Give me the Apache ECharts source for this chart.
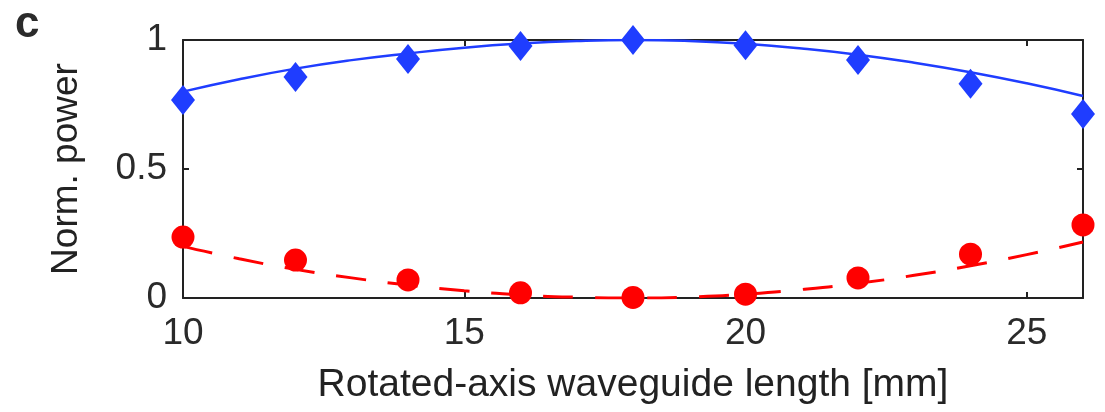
<!DOCTYPE html>
<html>
<head>
<meta charset="utf-8">
<script src="https://cdn.jsdelivr.net/npm/echarts@6/dist/echarts.min.js"></script>
<style>
  html, body { margin: 0; padding: 0; background: #fff; }
  #chart { width: 1105px; height: 412px; }
</style>
</head>
<body>
<div id="chart"></div>
<script>
// Measured waveguide lengths [mm]
const lengths = [10, 12, 14, 16, 18, 20, 22, 24, 26];
// Normalised power in the co-polarised (blue) and cross-polarised (red) outputs
const powerCo = [0.767, 0.857, 0.926, 0.977, 1.0, 0.98, 0.922, 0.83, 0.713];
const powerCross = [0.236, 0.147, 0.07, 0.02, 0.002, 0.015, 0.078, 0.17, 0.283];

// Fitted curves sampled every millimetre
const fitLengths = [10, 11, 12, 13, 14, 15, 16, 17, 18, 19, 20, 21, 22, 23, 24, 25, 26];
const fitCo = [0.80, 0.848, 0.889, 0.922, 0.948, 0.970, 0.986, 0.996, 1.0, 0.996, 0.985, 0.967, 0.943, 0.912, 0.875, 0.832, 0.783];
const fitCross = [0.200, 0.152, 0.111, 0.078, 0.050, 0.028, 0.012, 0.003, 0.0, 0.004, 0.015, 0.033, 0.057, 0.088, 0.125, 0.168, 0.217];

const xTicks = [10, 15, 20, 25];
const yTicks = [0, 0.5, 1];

const pairs = (xs, ys) => xs.map((x, i) => [x, ys[i]]);

const BLUE = '#1f3dff';
const RED = '#ff0000';
const INK = '#222222';
const FONT = '"Liberation Sans", Arial, Helvetica, sans-serif';

const frameLine = { show: true, onZero: false, lineStyle: { color: INK, width: 2 } };
const innerTick = { show: true, inside: true, length: 6, lineStyle: { color: INK, width: 2 } };

const chart = echarts.init(document.getElementById('chart'), null, { renderer: 'canvas' });

chart.setOption({
  animation: false,
  backgroundColor: '#ffffff',
  textStyle: { fontFamily: FONT },
  grid: { left: 183, right: 22, top: 40, bottom: 114 },
  graphic: [{
    type: 'text',
    left: 15,
    top: 3,
    style: { text: 'c', fontSize: 44, fontWeight: 'bold', fill: '#2b2b2b', fontFamily: FONT }
  }],
  xAxis: [{
    type: 'value',
    min: 10, max: 26, interval: 5,
    name: 'Rotated-axis waveguide length [mm]',
    nameLocation: 'middle',
    nameGap: 68,
    nameTextStyle: { fontSize: 39, color: INK, fontFamily: FONT },
    axisLine: frameLine,
    axisTick: innerTick,
    splitLine: { show: false },
    axisLabel: {
      fontSize: 37, color: '#2a2a2a', margin: 17, fontFamily: FONT,
      formatter: v => (xTicks.indexOf(v) >= 0 ? String(v) : '')
    }
  }, {
    type: 'value',
    position: 'top',
    min: 10, max: 26, interval: 5,
    axisLine: frameLine,
    axisTick: innerTick,
    axisLabel: { show: false },
    splitLine: { show: false }
  }],
  yAxis: [{
    type: 'value',
    min: 0, max: 1, interval: 0.5,
    name: 'Norm. power',
    nameLocation: 'middle',
    nameGap: 98,
    nameTextStyle: { fontSize: 37, color: INK, fontFamily: FONT },
    axisLine: frameLine,
    axisTick: innerTick,
    splitLine: { show: false },
    axisLabel: {
      fontSize: 37, color: '#2a2a2a', margin: 16, fontFamily: FONT,
      formatter: v => (yTicks.indexOf(v) >= 0 ? String(v) : '')
    }
  }, {
    type: 'value',
    position: 'right',
    min: 0, max: 1, interval: 0.5,
    axisLine: frameLine,
    axisTick: innerTick,
    axisLabel: { show: false },
    splitLine: { show: false }
  }],
  series: [{
    name: 'fit co',
    type: 'line',
    data: pairs(fitLengths, fitCo),
    smooth: true,
    showSymbol: false,
    lineStyle: { color: BLUE, width: 2.5 },
    z: 2
  }, {
    name: 'fit cross',
    type: 'line',
    data: pairs(fitLengths, fitCross),
    smooth: true,
    showSymbol: false,
    lineStyle: { color: RED, width: 3, type: [30, 22] },
    z: 2
  }, {
    name: 'co',
    type: 'scatter',
    data: pairs(lengths, powerCo),
    symbol: 'diamond',
    symbolSize: [24, 30],
    itemStyle: { color: BLUE, opacity: 1 },
    clip: false,
    z: 3
  }, {
    name: 'cross',
    type: 'scatter',
    data: pairs(lengths, powerCross),
    symbol: 'circle',
    symbolSize: 23,
    itemStyle: { color: RED, opacity: 1 },
    clip: false,
    z: 3
  }]
});
</script>
</body>
</html>
